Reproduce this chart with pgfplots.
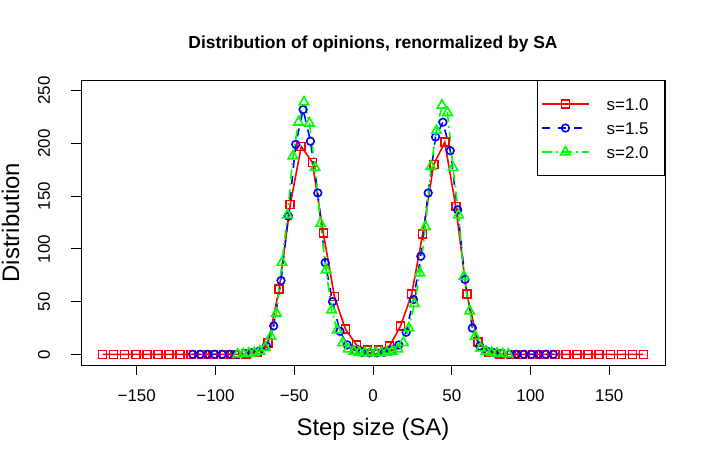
\documentclass[border=0pt]{standalone}
\usepackage{pgfplots}
\pgfplotsset{compat=1.18}
\usepackage{fontspec}
\setmainfont{Liberation Sans}
\definecolor{rred}{RGB}{255,0,0}
\definecolor{rblue}{RGB}{0,0,255}
\definecolor{rgreen}{RGB}{0,255,0}
\newcommand{\tickfont}{\fontsize{17}{20}\selectfont}
\begin{document}
\begin{tikzpicture}[x=1bp,y=1bp]
\path[use as bounding box] (0,0) rectangle (706,467);
\begin{axis}[
  at={(81bp,102bp)}, anchor=south west,
  width=584bp, height=285bp, scale only axis,
  xmin=-185.4, xmax=185.4, ymin=-10, ymax=260,
  axis line style={line width=0.8bp, draw=black},
  tick style={line width=0.8bp, draw=black},
  tick align=outside, major tick length=10bp, tick pos=left,
  xtick={-150,-100,-50,0,50,100,150},
  xticklabels={−150,−100,−50,0,50,100,150},
  ytick={0,50,100,150,200,250},
  yticklabels={0,50,100,150,200,250},
  xticklabel style={font=\tickfont, anchor=base, yshift=-27bp},
  yticklabel style={font=\tickfont, anchor=base, xshift=-21bp, rotate=90},
  legend style={at={(1,1)}, anchor=north east, draw=black, line width=0.8bp,
    font=\tickfont, inner xsep=4bp, inner ysep=17.5bp, row sep=11.7bp,
    nodes={inner sep=0pt, text height=12.3bp, text depth=0bp},
    /tikz/every odd column/.append style={column sep=17bp}},
  legend cell align=left,
  legend image code/.code={\draw[#1] (0bp,0bp) -- (47bp,0bp); \draw[#1, solid] plot coordinates {(23.5bp,0bp)};},
  clip=false,
]
\addplot[color=rred, line width=1.6bp, mark=square, mark size=4bp, mark options={solid}] coordinates {
(-171.70,0) (-164.69,0) (-157.68,0) (-150.67,0) (-143.66,0) (-136.66,0) (-129.65,0) (-122.64,0) (-115.63,0) (-108.62,0)
(-101.62,0) (-94.61,0) (-87.60,0) (-80.59,0.5) (-73.58,2) (-66.58,11) (-59.57,62) (-52.56,142) (-45.55,197) (-38.54,182)
(-31.54,115) (-24.53,55) (-17.52,24) (-10.51,9) (-3.50,4) (3.50,4) (10.51,8) (17.52,27) (24.53,57) (31.54,114)
(38.54,180) (45.55,201) (52.56,140) (59.57,57) (66.58,12) (73.58,2) (80.59,0.5) (87.60,0) (94.61,0) (101.62,0)
(108.62,0) (115.63,0) (122.64,0) (129.65,0) (136.66,0) (143.66,0) (150.67,0) (157.68,0) (164.69,0) (171.70,0)
};
\addlegendentry{s=1.0\hspace*{12bp}}
\addplot[color=rblue, line width=1.6bp, dash pattern=on 8bp off 8bp, mark=o, mark size=3.8bp, mark options={solid}] coordinates {
(-114.46,0.1) (-109.79,0.1) (-105.12,0.1) (-100.45,0.1) (-95.78,0.1) (-91.10,0.1) (-86.43,0.1) (-81.76,0.7) (-77.09,1.5) (-72.42,3)
(-67.74,8) (-63.07,27) (-58.40,70) (-53.73,131) (-49.06,199) (-44.38,232) (-39.71,202) (-35.04,153) (-30.37,87) (-25.70,50)
(-21.02,22) (-16.35,9) (-11.68,4) (-7.01,2) (-2.34,1.5) (2.34,1.5) (7.01,2) (11.68,4) (16.35,9) (21.02,21)
(25.70,52) (30.37,93) (35.04,153) (39.71,206) (44.38,220) (49.06,193) (53.73,137) (58.40,71) (63.07,25) (67.74,8)
(72.42,3) (77.09,1.5) (81.76,0.7) (86.43,0.1) (91.10,0.1) (95.78,0.1) (100.45,0.1) (105.12,0.1) (109.79,0.1) (114.46,0.1)
};
\addlegendentry{s=1.5\hspace*{12bp}}
\addplot[color=rgreen, line width=1.6bp, dash pattern=on 10bp off 4bp on 2bp off 4bp, mark=triangle, mark size=5.5bp, mark options={solid}] coordinates {
(-85.85,0.3) (-82.34,0.5) (-78.84,1) (-75.34,1.5) (-71.83,3) (-68.33,6.6) (-64.82,17) (-61.32,39) (-57.82,87) (-54.31,132)
(-50.81,188) (-47.30,220) (-43.80,239) (-40.30,219) (-36.79,177) (-33.29,124) (-29.78,80) (-26.28,42) (-22.78,23) (-19.27,11)
(-15.77,5) (-12.26,3) (-8.76,2) (-5.26,1.5) (-1.75,1.5) (1.75,1.5) (5.26,1.5) (8.76,2) (12.26,3) (15.77,5)
(19.27,11) (22.78,25) (26.28,48) (29.78,77) (33.29,121) (36.79,178) (40.30,212) (43.80,236) (47.30,229) (50.81,177)
(54.31,132) (57.82,74) (61.32,41) (64.82,17) (68.33,6) (71.83,3) (75.34,1.5) (78.84,1) (82.34,0.5) (85.85,0.3)
};
\addlegendentry{s=2.0\hspace*{12bp}}
\end{axis}
\node[anchor=base, font=\bfseries\fontsize{17.5}{21}\selectfont] at (373,418) {Distribution of opinions, renormalized by SA};
\node[anchor=base, font=\fontsize{24}{28}\selectfont] at (373,31.3) {Step size (SA)};
\node[anchor=base, rotate=90, font=\fontsize{24}{28}\selectfont] at (19,244.5) {Distribution};
\end{tikzpicture}
\end{document}
